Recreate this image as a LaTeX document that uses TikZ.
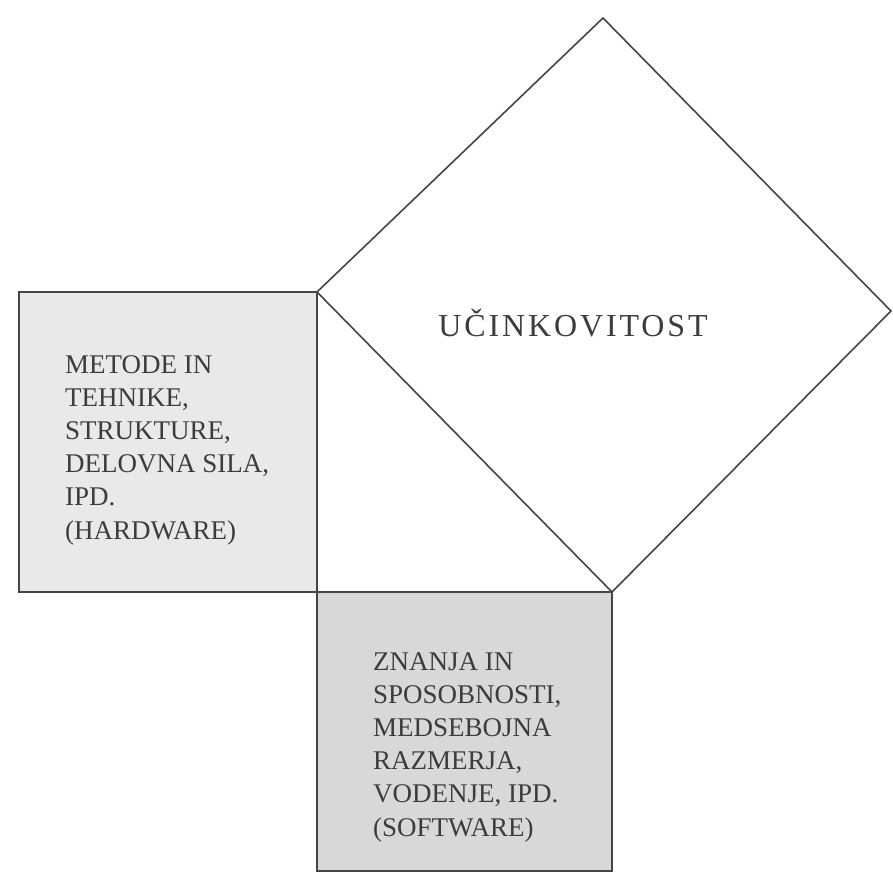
\documentclass[tikz,border=0pt]{standalone}
\usepackage{fontspec}
\setmainfont{Liberation Serif}
\usepackage{tikz}
\usetikzlibrary{positioning}
\definecolor{edgegray}{HTML}{454545}
\definecolor{inkgray}{HTML}{3C3C3C}
\definecolor{hardfill}{HTML}{E9E9E9}
\definecolor{softfill}{HTML}{D8D8D8}
\tikzset{
  sq/.style={draw=edgegray, line width=1.6pt, line join=miter},
  sq/hard/.style={sq, fill=hardfill},
  sq/soft/.style={sq, fill=softfill},
  sq/eff/.style={sq, fill=white},
  boxtxt/.style={font=\fontsize{27}{33.2}\selectfont, text=inkgray, align=left,
    anchor=north west, inner sep=0pt},
  efftxt/.style={font=\fontsize{32}{38}\selectfont\addfontfeature{LetterSpace=9},
    text=inkgray, anchor=base, inner sep=0pt},
}

\begin{document}
\begin{tikzpicture}[x=1pt,y=-1pt]
\useasboundingbox (0,0) rectangle (893,874);

%% ===== CORNERS =====
\coordinate (RA) at (317,592);   % right angle
\coordinate (HT) at (317,292);   % top of hardware square
\coordinate (SR) at (612,592);   % right of software square
\coordinate (ET) at (603,18);
\coordinate (ER) at (891,311);

% -- hardware square --
\draw[sq/hard] (19,292) rectangle (RA);
% -- software square --
\draw[sq/soft] (RA) rectangle (612,871);
% -- hypotenuse square --
\draw[sq/eff] (HT) -- (SR) -- (ER) -- (ET) -- cycle;

%% ===== TEXTS =====
\node[efftxt] (EFF) at (573,336) {UČINKOVITOST};
\node[boxtxt] (HW) at (65,355) {METODE IN\\TEHNIKE,\\STRUKTURE,\\DELOVNA SILA,\\IPD.\\(HARDWARE)};
\node[boxtxt] (SW) at (373,652) {ZNANJA IN\\SPOSOBNOSTI,\\MEDSEBOJNA\\RAZMERJA,\\VODENJE, IPD.\\(SOFTWARE)};
\end{tikzpicture}
\end{document}
